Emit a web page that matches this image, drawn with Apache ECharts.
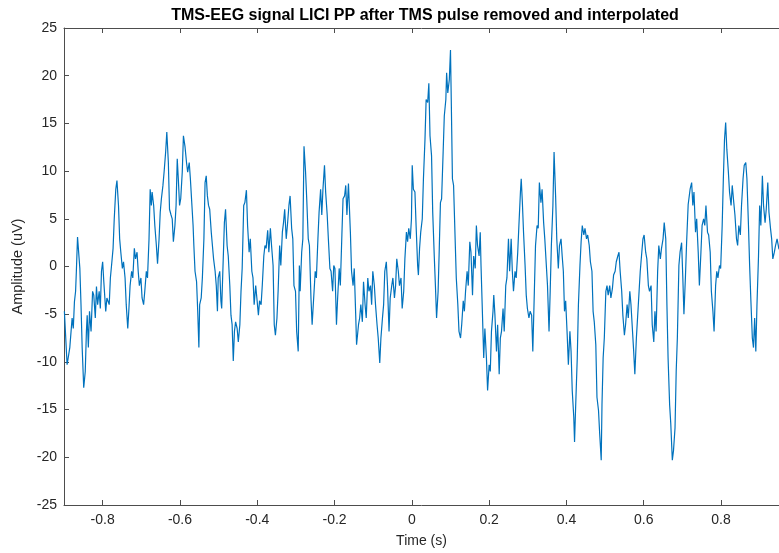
<!DOCTYPE html>
<html>
<head>
<meta charset="utf-8">
<script src="https://cdn.jsdelivr.net/npm/echarts@6/dist/echarts.min.js"></script>
<style>
html,body{margin:0;padding:0;background:#fff;}
#chart{width:779px;height:553px;}
</style>
</head>
<body>
<div id="chart"></div>
<script>
// Time (s)
var timeS = [
-0.899,-0.892,-0.885,-0.879,-0.876,-0.873,-0.870,-0.868,-0.865,-0.859,-0.856,-0.853,-0.849,-0.845,-0.842,-0.840,-0.837,-0.834,-0.830,-0.826,
-0.823,-0.819,-0.816,-0.813,-0.809,-0.806,-0.803,-0.800,-0.797,-0.792,-0.789,-0.783,-0.780,-0.777,-0.773,-0.770,-0.766,-0.763,-0.759,-0.756,
-0.753,-0.749,-0.746,-0.742,-0.739,-0.735,-0.732,-0.729,-0.725,-0.722,-0.718,-0.715,-0.711,-0.708,-0.705,-0.701,-0.698,-0.694,-0.691,-0.687,
-0.684,-0.680,-0.677,-0.674,-0.672,-0.668,-0.665,-0.661,-0.658,-0.654,-0.651,-0.648,-0.644,-0.641,-0.637,-0.634,-0.630,-0.627,-0.623,-0.620,
-0.617,-0.613,-0.610,-0.607,-0.604,-0.601,-0.598,-0.594,-0.591,-0.587,-0.583,-0.580,-0.576,-0.573,-0.569,-0.566,-0.564,-0.561,-0.557,-0.554,
-0.551,-0.549,-0.545,-0.542,-0.538,-0.535,-0.532,-0.529,-0.526,-0.523,-0.519,-0.516,-0.513,-0.509,-0.506,-0.503,-0.501,-0.497,-0.494,-0.492,
-0.489,-0.485,-0.482,-0.478,-0.475,-0.471,-0.468,-0.465,-0.462,-0.459,-0.456,-0.452,-0.449,-0.445,-0.442,-0.439,-0.435,-0.432,-0.428,-0.425,
-0.421,-0.418,-0.414,-0.411,-0.408,-0.404,-0.401,-0.397,-0.394,-0.390,-0.387,-0.383,-0.380,-0.377,-0.373,-0.370,-0.366,-0.363,-0.359,-0.356,
-0.353,-0.349,-0.346,-0.342,-0.339,-0.335,-0.332,-0.329,-0.325,-0.322,-0.318,-0.315,-0.311,-0.308,-0.305,-0.301,-0.298,-0.294,-0.291,-0.289,
-0.285,-0.282,-0.279,-0.275,-0.272,-0.268,-0.265,-0.261,-0.258,-0.254,-0.250,-0.247,-0.243,-0.240,-0.236,-0.233,-0.230,-0.226,-0.223,-0.219,
-0.216,-0.212,-0.209,-0.205,-0.202,-0.199,-0.195,-0.192,-0.188,-0.185,-0.181,-0.178,-0.174,-0.171,-0.168,-0.164,-0.159,-0.156,-0.152,-0.149,
-0.145,-0.143,-0.138,-0.135,-0.132,-0.128,-0.125,-0.121,-0.118,-0.114,-0.111,-0.107,-0.104,-0.101,-0.097,-0.094,-0.090,-0.087,-0.083,-0.080,
-0.076,-0.073,-0.070,-0.066,-0.063,-0.059,-0.056,-0.052,-0.049,-0.045,-0.042,-0.039,-0.035,-0.032,-0.028,-0.025,-0.021,-0.018,-0.014,-0.011,
-0.008,-0.004,-0.001,0.001,0.004,0.008,0.011,0.015,0.017,0.020,0.023,0.027,0.030,0.034,0.037,0.041,0.044,0.047,0.051,0.054,
0.058,0.061,0.064,0.068,0.071,0.074,0.077,0.081,0.084,0.088,0.090,0.093,0.097,0.100,0.102,0.105,0.108,0.112,0.115,0.119,
0.122,0.126,0.129,0.133,0.136,0.139,0.143,0.146,0.150,0.153,0.157,0.160,0.164,0.167,0.170,0.174,0.177,0.179,0.182,0.186,
0.189,0.193,0.196,0.200,0.203,0.206,0.210,0.212,0.215,0.219,0.222,0.226,0.229,0.232,0.236,0.239,0.243,0.246,0.250,0.253,
0.257,0.260,0.263,0.267,0.270,0.274,0.277,0.281,0.283,0.286,0.289,0.293,0.296,0.299,0.303,0.306,0.310,0.313,0.317,0.320,
0.324,0.327,0.330,0.334,0.337,0.341,0.344,0.348,0.351,0.355,0.358,0.361,0.365,0.368,0.372,0.375,0.379,0.382,0.386,0.389,
0.392,0.395,0.398,0.402,0.405,0.409,0.412,0.415,0.419,0.421,0.424,0.428,0.431,0.435,0.438,0.441,0.445,0.448,0.452,0.455,
0.459,0.462,0.466,0.469,0.472,0.476,0.479,0.483,0.486,0.490,0.492,0.495,0.498,0.502,0.505,0.508,0.512,0.515,0.519,0.522,
0.526,0.529,0.533,0.536,0.539,0.543,0.546,0.550,0.553,0.557,0.560,0.564,0.567,0.570,0.574,0.577,0.581,0.584,0.588,0.591,
0.595,0.598,0.601,0.605,0.608,0.612,0.615,0.619,0.622,0.626,0.629,0.632,0.636,0.639,0.643,0.646,0.650,0.653,0.657,0.660,
0.663,0.667,0.670,0.674,0.677,0.681,0.684,0.687,0.691,0.694,0.698,0.701,0.704,0.708,0.711,0.715,0.720,0.724,0.727,0.730,
0.734,0.737,0.741,0.744,0.748,0.751,0.755,0.758,0.761,0.765,0.768,0.772,0.775,0.779,0.782,0.786,0.789,0.792,0.796,0.799,
0.803,0.806,0.809,0.812,0.815,0.819,0.822,0.826,0.829,0.833,0.836,0.840,0.843,0.846,0.850,0.853,0.857,0.860,0.864,0.867,
0.871,0.874,0.877,0.881,0.884,0.887,0.890,0.893,0.897,0.900,0.903,0.907,0.910,0.914,0.917,0.921,0.924,0.928,0.931,0.934,
0.938,0.941,0.945,0.950
];

// Amplitude (uV)
var amplitudeUV = [
-4.7,-10.3,-8.5,-5.4,-6.5,-3.7,-2.6,-0.5,3.1,-0.2,-4,-8.5,-12.7,-11,-6.8,-5.1,-8.5,-4.7,-6.8,-2.6,
-3,-5.4,-2.1,-4,-2.6,-4.4,-0.5,0.5,-1.6,-4.7,-3.3,-4,-1.2,0.1,1.9,5,8.1,9,6.4,2.9,
1.5,-0.2,0.5,-1.2,-4,-6.5,-4.4,-2,-0.5,-1.2,1.9,0.8,1.5,-0.5,-2,-1.2,-3.3,-4,-2.6,-0.5,
-1.2,2.9,8.1,6.4,7.8,6.4,4.3,2.2,0.3,2.9,5.7,7.1,8.5,9.9,12,14.1,10.9,6,5.4,5,
2.6,4.3,6.4,11.3,9,6.4,7.1,9.9,13.7,12.6,10.9,9.9,10.9,9.2,6.4,4.3,2.2,-0.5,-1.6,-4.7,
-8.5,-4,-3.3,-1.2,2.9,8.8,9.5,7.4,6.4,6,3.6,2.2,0.8,-0.5,-2,-4.7,-1.2,-0.5,-3.6,-4.4,
-0.5,4.6,6,2.2,1.1,-2,-5.1,-6.1,-9.9,-6.8,-5.8,-6.5,-7.9,-6.1,-2.6,-0.2,6.4,6.7,8,4.3,
1.5,2.9,-0.5,-1.2,-4,-2,-3.3,-5.1,-3.6,-4,-2,1.1,2.2,1.9,3.8,1.5,4,2.2,0.1,-6.1,
-7.2,-5.4,-2.6,2.2,0.1,3.6,4.6,6,2.9,4.3,6.4,7.4,4,2.9,-2,-2.6,-6.8,-8.9,0.1,-2.6,
1.5,2.9,12.6,9.9,7.1,2.9,2.2,-3.3,-6.1,-3.3,-0.5,-1.2,2.9,5.7,8.1,5.4,8.1,10.6,7.8,5.4,
2.9,-0.2,-0.5,-2.6,0.1,-0.2,-6.1,-3.3,-0.2,-2,3.3,7.1,7.4,8.5,5.4,8.7,3.6,-0.5,-2,-0.2,
-5.4,-8.2,-6.1,-5.4,-4,-5.8,-1.6,-4,-5.4,-1.2,-2.6,-2,-4,-0.5,-2,-4,-6.1,-7.5,-10.1,-7.5,
-5.4,-4,-0.5,0.5,-2,-6.8,-3.3,-2,-1.2,-3.3,-2,0.8,-0.5,-2,-1.2,-4.4,-2.6,0.8,3.6,2.6,
4,2.9,5,10.6,8.1,7.8,4.3,0.1,-0.9,1.9,3.6,5,9.2,13.3,17.5,17.2,19.2,13.7,11.6,5.7,
1.1,-2,-5.4,-2.6,1.9,6.7,7.1,12,15.8,17.5,20.3,18.2,19.6,22.7,17.5,9.2,8.5,2.9,-1.2,-4,
-6.8,-7.5,-6.1,-3.6,-4.7,-2.6,-0.5,-2,2.6,1.5,-3,1.1,-0.2,4.3,2.2,1.1,3.6,0.1,-4,-9.6,
-6.5,-9.6,-13,-10.3,-11,-6.8,-4.7,-3,-5.1,-8.9,-6.1,-11.3,-7.5,-6.8,-4.4,-6.8,-2,-1.2,2.9,-0.5,
2.9,-0.5,-2.6,-0.5,-1.2,1.5,4.3,7.8,9.2,6.7,3.6,0.1,-3,-4.4,-5.4,-4.7,-5.1,-8.9,-2.6,2.2,
4.3,4,8.8,6.7,8.1,4.6,2.9,0.1,-2,-6.8,-2.6,2.2,6.4,12,7.4,2.9,-0.2,2.2,2.9,1.1,
-0.5,-4.7,-3.6,-7.2,-10.3,-6.8,-8.9,-13,-15.8,-18.4,-14.5,-9.6,-4,0.1,2.6,4.3,3.3,4,2.9,3.3,
2.2,0.5,-0.5,-4.7,-5.8,-8.2,-13.7,-15.1,-17.5,-20.3,-14.5,-9.6,-7.5,-2.6,-2,-3,-2,-3.3,-2.3,-0.9,
-0.5,0.5,1.1,1.5,-0.5,-2.6,-5.1,-7.2,-6.1,-4,-5.4,-2.6,-4,-6.1,-8.9,-11.3,-7.5,-5.4,-2.6,-0.5,
1.5,2.9,3.3,1.5,0.8,-2,-2.6,-2,-6.1,-7.9,-4.7,-6.8,-0.5,2.2,0.8,1.9,2.9,4.6,2.9,-4,
-9.6,-14.5,-16.5,-20.3,-19.3,-16.9,-11,-7.5,0.1,1.5,2.5,-1,-5,-1,2.6,6.5,8.1,8.8,6.4,7.8,
3.6,5,1.5,-2,1.5,4.3,5,4.3,6.4,3.6,3.3,1.5,-2.6,-4.7,-6.8,-2,-0.5,-1.2,0.1,-0.2,
4.3,9.2,13.3,15.1,12.3,9.9,7.8,6.4,8.5,6.7,5.4,2.9,2.2,4.3,3.3,6.4,9.2,10.6,10.9,9.2,
4.3,0.1,-3.3,-7.5,-8.5,-5.4,-8.9,-4,1.1,6.4,4.3,9.5,6.4,4.6,6,8.8,5.7,4,2.9,0.8,
1.5,2.2,2.9,1.8
];

var xTickValues = [-0.8, -0.6, -0.4, -0.2, 0, 0.2, 0.4, 0.6, 0.8];
var yTickValues = [-25, -20, -15, -10, -5, 0, 5, 10, 15, 20, 25];

var chartTitle = 'TMS-EEG signal LICI PP after TMS pulse removed and interpolated';
var xName = 'Time (s)';
var yName = 'Amplitude (uV)';

var seriesData = timeS.map(function (t, i) { return [t, amplitudeUV[i]]; });

var FONT = 'Liberation Sans, Arial, Helvetica, sans-serif';
var AX = '#4d4d4d';
var TXT = '#262626';

var chart = echarts.init(document.getElementById('chart'), null, { renderer: 'canvas' });
chart.setOption({
  animation: false,
  backgroundColor: '#ffffff',
  title: {
    text: chartTitle,
    left: 420,
    top: 3,
    textAlign: 'center',
    textStyle: { fontFamily: FONT, fontWeight: 'bold', fontSize: 16, color: '#000' }
  },
  grid: { left: 64, top: 28, width: 717, height: 480, containLabel: false },
  xAxis: [{
    type: 'value',
    min: -0.9,
    max: 0.95,
    position: 'bottom',
    name: xName,
    nameLocation: 'middle',
    nameGap: 29,
    nameTextStyle: { fontFamily: FONT, fontSize: 14, color: TXT },
    axisLine: { show: true, onZero: false, lineStyle: { color: AX, width: 1 } },
    axisTick: { show: true, inside: true, length: 5, customValues: xTickValues, lineStyle: { color: AX } },
    axisLabel: {
      customValues: xTickValues,
      fontFamily: FONT, fontSize: 14, color: TXT, margin: 8,
      formatter: function (v) { return String(+(+v).toFixed(1)); }
    },
    splitLine: { show: false }
  }, {
    type: 'value',
    min: -0.9,
    max: 0.95,
    position: 'top',
    axisLine: { show: true, onZero: false, lineStyle: { color: AX, width: 1 } },
    axisTick: { show: true, inside: true, length: 5, customValues: xTickValues, lineStyle: { color: AX } },
    axisLabel: { show: false },
    splitLine: { show: false }
  }],
  yAxis: [{
    type: 'value',
    min: -25,
    max: 25,
    interval: 5,
    position: 'left',
    name: yName,
    nameLocation: 'middle',
    nameGap: 32,
    nameTextStyle: { fontFamily: FONT, fontSize: 14.5, color: TXT },
    axisLine: { show: true, onZero: false, lineStyle: { color: AX, width: 1 } },
    axisTick: { show: true, inside: true, length: 5, customValues: yTickValues, lineStyle: { color: AX } },
    axisLabel: { customValues: yTickValues, fontFamily: FONT, fontSize: 14, color: TXT, margin: 7 },
    splitLine: { show: false }
  }],
  series: [{
    type: 'line',
    xAxisIndex: 0,
    yAxisIndex: 0,
    data: seriesData,
    showSymbol: false,
    symbol: 'none',
    clip: true,
    lineStyle: { color: '#0072BD', width: 1.2 }
  }]
});
</script>
</body>
</html>
